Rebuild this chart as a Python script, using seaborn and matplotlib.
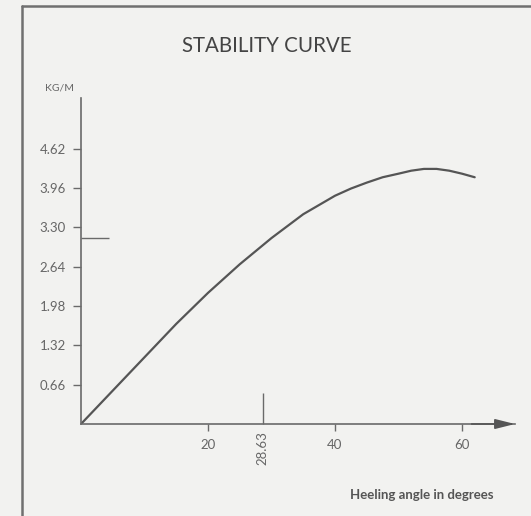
import matplotlib as mpl
mpl.use("Agg")
import matplotlib.pyplot as plt
import matplotlib.lines as mlines
import pandas as pd
import seaborn as sns

# values
heel_deg = [0, 5, 10, 15, 20, 25, 30, 35, 40, 42.5, 45, 47.5, 50, 52, 54, 56, 58, 60, 62]
righting_kgm = [0, 0.56, 1.12, 1.68, 2.2, 2.68, 3.12, 3.52, 3.83, 3.95, 4.05, 4.14,
                4.2, 4.25, 4.28, 4.28, 4.25, 4.2, 4.14]
y_ticks = [0.66, 1.32, 1.98, 2.64, 3.30, 3.96, 4.62]
y_labels = ["0.66", "1.32", "1.98", "2.64", "3.30", "3.96", "4.62"]
x_ticks = [20, 40, 60]
marked_angle = 28.63
marked_value = 3.12

sns.set_style("white")
plt.rcParams["font.family"] = ["Lato", "DejaVu Sans"]

W, H = 531, 516
fig = plt.figure(figsize=(W / 100, H / 100), dpi=100)
fig.patch.set_facecolor("#f2f2f0")

# page frame: only the top and left edges are drawn in the reference
frame_x, frame_y = 21.5 / W, 1 - 6 / H
fig.add_artist(mlines.Line2D([frame_x, 1.0], [frame_y, frame_y], transform=fig.transFigure,
                             color="#707070", lw=1.8, zorder=-5))
fig.add_artist(mlines.Line2D([frame_x, frame_x], [0, frame_y], transform=fig.transFigure,
                             color="#707070", lw=1.8, zorder=-5))

ax = fig.add_axes([81 / W, (H - 424) / H, 434 / W, 326 / H])
ax.set_facecolor("none")

df = pd.DataFrame({"heel": heel_deg, "gz": righting_kgm})
sns.lineplot(data=df, x="heel", y="gz", ax=ax, color="#555555", lw=1.6)

ax.set_xlim(0, 434 / 6.35)
ax.set_ylim(0, 326 / 59.6)
sns.despine(ax=ax)
for side in ["left", "bottom"]:
    ax.spines[side].set_color("#6a6a6a")
    ax.spines[side].set_linewidth(1.2)

ax.set_xticks(x_ticks, labels=[str(v) for v in x_ticks])
ax.set_xticks([marked_angle], labels=["28.63"], minor=True)
ax.set_yticks(y_ticks, labels=y_labels)
ax.set_yticks([marked_value], labels=[""], minor=True)

ax.tick_params(axis="both", which="both", bottom=True, left=True)
ax.tick_params(axis="x", which="major", direction="out", length=5, width=1,
               color="#6a6a6a", labelcolor="#666666", labelsize=9.5, pad=6)
ax.tick_params(axis="x", which="minor", direction="in", length=22, width=1,
               color="#6a6a6a", labelcolor="#666666", labelsize=9.5,
               labelrotation=90, pad=5)
ax.tick_params(axis="y", which="major", direction="out", length=6, width=1,
               color="#6a6a6a", labelcolor="#666666", labelsize=9.5, pad=5)
ax.tick_params(axis="y", which="minor", direction="in", length=20, width=1,
               color="#6a6a6a")

ax.set_xlabel("")
ax.set_ylabel("")

# arrow head on the x axis
ax.annotate("", xy=(1.0, 0), xytext=(0.9, 0), xycoords=ax.get_yaxis_transform(),
            arrowprops=dict(arrowstyle="-|>,head_length=1.2,head_width=0.3",
                            color="#555555", lw=1.2, shrinkA=0, shrinkB=0))

fig.text(267 / W, 1 - 46 / H, "STABILITY CURVE", ha="center", va="center",
         fontsize=14.8, color="#444444")
fig.text(60 / W, 1 - 88 / H, "KG/M", ha="center", va="center",
         fontsize=7.5, color="#666666")
fig.text(494 / W, 1 - 495 / H, "Heeling angle in degrees", ha="right",
         va="center", fontsize=9.5, fontweight="bold", color="#555555")

fig.savefig("out.png", dpi=100, facecolor=fig.get_facecolor())
